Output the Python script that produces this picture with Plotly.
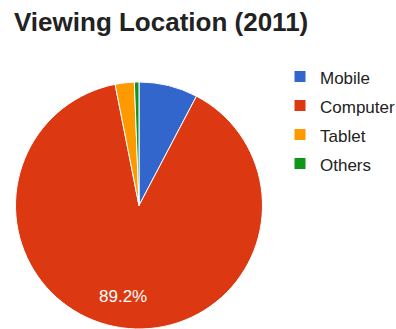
import math
import plotly.graph_objects as go

labels = ["Mobile", "Computer", "Tablet", "Others"]
values = [7.7, 89.2, 2.5, 0.6]
colors = ["#3366CC", "#DC3912", "#FF9900", "#109618"]
title_text = "Viewing Location (2011)"

W, H = 396, 329
FONT = "Liberation Sans, Arial, sans-serif"

# pie geometry (pixels)
dom_x = [15.5 / W, 262.5 / W]
top_margin = 82
plot_h = H - top_margin
cx_frac = (dom_x[0] + dom_x[1]) / 2
radius_px = plot_h / 2

legend_labels = ['<span style="font-size:17px">%s</span>' % l for l in labels]

fig = go.Figure(go.Pie(
    labels=legend_labels,
    values=values,
    textinfo="none",
    marker=dict(colors=colors, line=dict(color="white", width=1)),
    sort=False,
    direction="clockwise",
    rotation=0,
    domain=dict(x=dom_x, y=[0, 1]),
    hoverinfo="label+percent",
))

# slice labels (only slices big enough), placed at mid-angle like Google Charts
total = sum(values)
cum = 0.0
annotations = []
for lab, v in zip(labels, values):
    frac = v / total
    mid = (cum + frac / 2) * 2 * math.pi
    cum += frac
    if frac < 0.10:
        continue
    rr = 0.745 * radius_px
    x_px = cx_frac * W + rr * math.sin(mid) - 3
    y_px_from_top = plot_h / 2 - rr * math.cos(mid)
    annotations.append(dict(
        x=x_px / W, y=1 - y_px_from_top / plot_h, xref="paper", yref="paper",
        text="%.1f%%" % (100 * frac), showarrow=False,
        xanchor="center", yanchor="middle",
        font=dict(color="white", size=17, family=FONT),
    ))

fig.update_layout(
    width=W, height=H,
    margin=dict(l=0, r=0, t=top_margin, b=0, autoexpand=False),
    paper_bgcolor="white",
    plot_bgcolor="white",
    title=dict(
        text="<b>%s</b>" % title_text,
        x=14 / W, xanchor="left", xref="container",
        y=1 - 22 / H, yanchor="middle", yref="container",
        font=dict(size=26, color="#222222", family=FONT),
    ),
    legend=dict(
        x=280 / W, xanchor="left", xref="container",
        y=1 - 57 / H, yanchor="top", yref="container",
        font=dict(size=20, color="#222222", family=FONT),
        bgcolor="rgba(0,0,0,0)",
        traceorder="normal",
    ),
    annotations=annotations,
    showlegend=True,
)

fig.write_html("out.html")
